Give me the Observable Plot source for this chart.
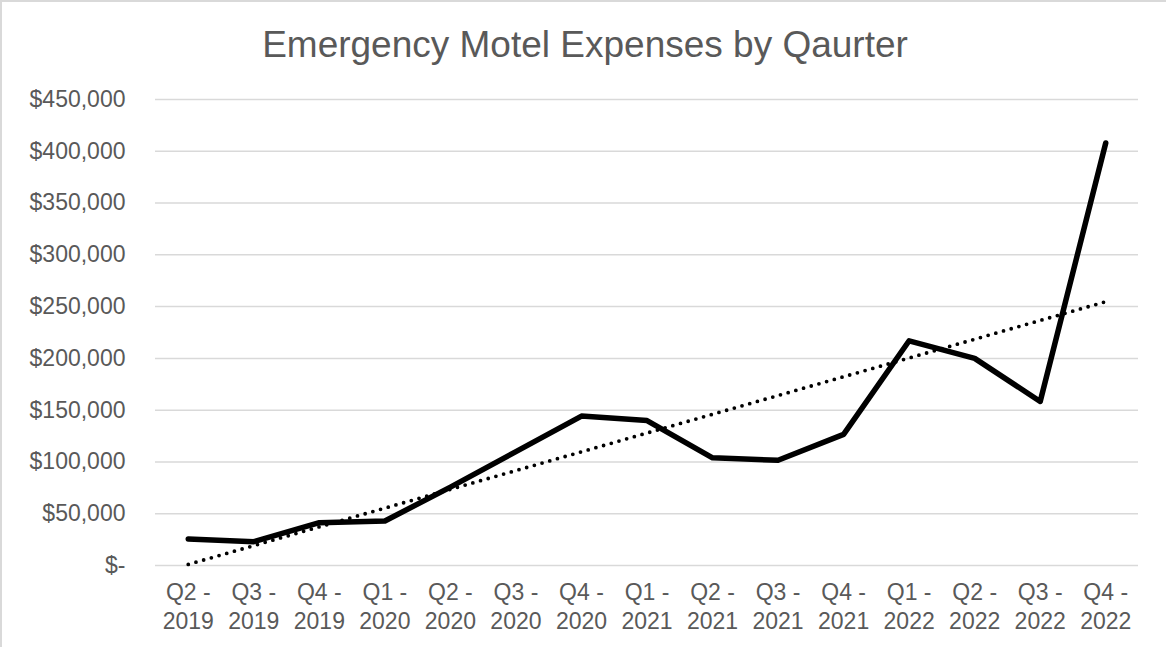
<!DOCTYPE html>
<html>
<head>
<meta charset="utf-8">
<script src="https://cdn.jsdelivr.net/npm/d3@7"></script>
<script src="https://cdn.jsdelivr.net/npm/@observablehq/plot@0.6"></script>
<style>
  html, body { margin: 0; padding: 0; background: #fff; }
  #wrap { position: relative; width: 1166px; height: 647px; box-sizing: border-box; border-top: 2px solid #d9d9d9; border-left: 2px solid #d9d9d9; overflow: hidden; font-family: "Liberation Sans", Arial, sans-serif; }
  #title { position: absolute; left: 0; top: 0; width: 1166px; height: 80px; text-align: center; font-size: 37px; line-height: 86px; color: #595959; }
  #chart { position: absolute; left: -2px; top: 76px; }
</style>
</head>
<body>
<div id="wrap">
  <div id="title">Emergency Motel Expenses by Qaurter</div>
  <div id="chart"></div>
</div>
<script>
const labels = ["Q2 - 2019","Q3 - 2019","Q4 - 2019","Q1 - 2020","Q2 - 2020","Q3 - 2020","Q4 - 2020","Q1 - 2021","Q2 - 2021","Q3 - 2021","Q4 - 2021","Q1 - 2022","Q2 - 2022","Q3 - 2022","Q4 - 2022"];
const values = [25700, 23000, 41300, 43000, 75700, 110000, 144300, 140000, 104000, 101600, 126600, 217000, 200000, 158400, 408000];
const yTicks = [0, 50000, 100000, 150000, 200000, 250000, 300000, 350000, 400000, 450000];

const data = labels.map((l, i) => ({i, label: l, v: values[i]}));
const idx = labels.map((_, i) => i);
const fmt = d3.format(",");

const plot = Plot.plot({
  width: 1166,
  height: 571,
  marginTop: 21,
  marginBottom: 84,
  marginLeft: 155,
  marginRight: 28,
  style: {fontFamily: '"Liberation Sans", Arial, sans-serif', fontSize: "23px", color: "#595959", background: "#fff"},
  x: {domain: [-0.5, labels.length - 0.5]},
  y: {domain: [0, 450000]},
  marks: [
    Plot.gridY(yTicks, {stroke: "#d9d9d9", strokeOpacity: 1, strokeWidth: 1.5}),
    Plot.axisY(yTicks, {tickSize: 0, tickPadding: 30, tickFormat: d => d === 0 ? "$-" : "$" + fmt(d), fill: "#595959", fontSize: 23, label: null}),
    Plot.axisX(idx, {tickSize: 0, tickPadding: 18, tickFormat: i => labels[i].split(" - ")[0] + " -", fill: "#595959", fontSize: 23, label: null}),
    Plot.axisX(idx, {tickSize: 0, tickPadding: 47, tickFormat: i => labels[i].split(" - ")[1], fill: "#595959", fontSize: 23, label: null}),
    Plot.line(data, {x: "i", y: "v", stroke: "black", strokeWidth: 5.5, strokeLinecap: "round", strokeLinejoin: "round"}),
    Plot.linearRegressionY(data, {x: "i", y: "v", ci: 0, stroke: "black", strokeWidth: 3.8, strokeDasharray: "0 8", strokeLinecap: "round"})
  ]
});
document.getElementById("chart").appendChild(plot);
</script>
</body>
</html>
